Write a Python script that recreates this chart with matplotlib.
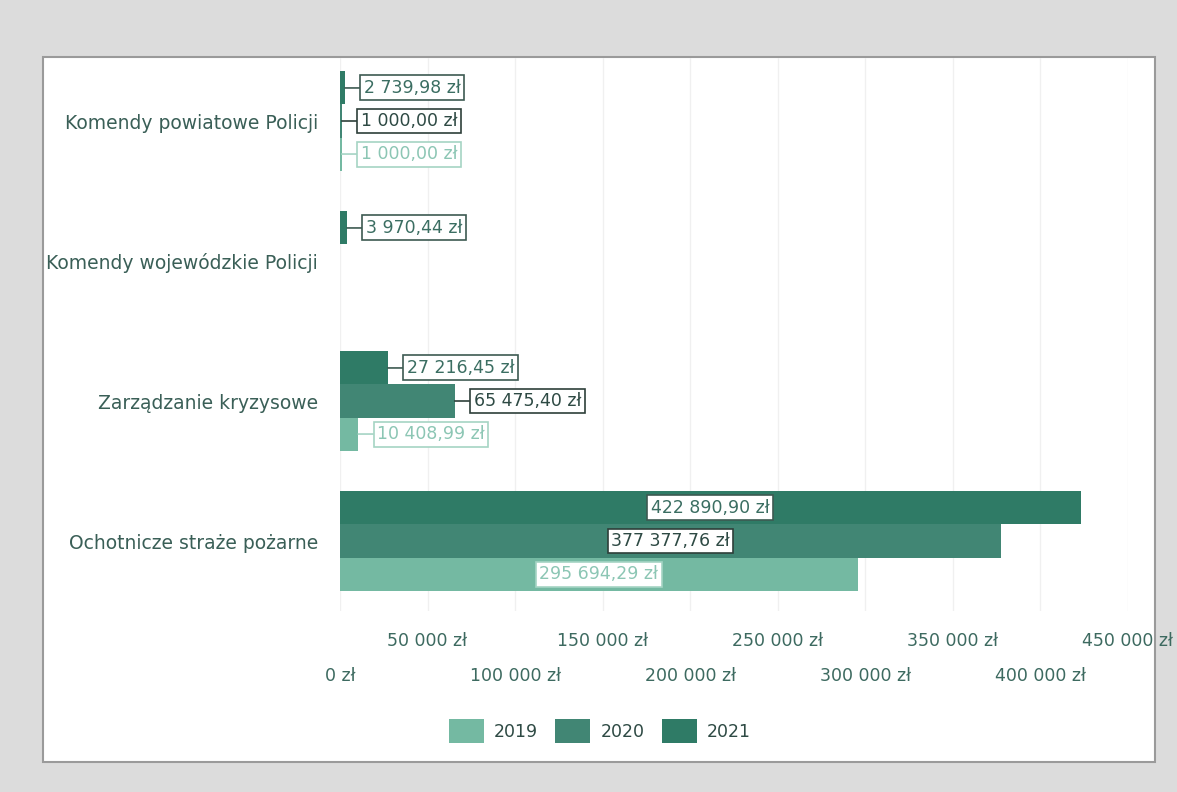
import matplotlib
matplotlib.use("Agg")
import matplotlib.pyplot as plt
from matplotlib.patches import Rectangle
import numpy as np

categories = ["Komendy powiatowe Policji", "Komendy wojewódzkie Policji",
              "Zarządzanie kryzysowe", "Ochotnicze straże pożarne"]
years = ["2019", "2020", "2021"]
values_2019 = [1000.00, None, 10408.99, 295694.29]
values_2020 = [1000.00, None, 65475.40, 377377.76]
values_2021 = [2739.98, 3970.44, 27216.45, 422890.90]
series = [values_2019, values_2020, values_2021]

bar_colors = ["#74b9a2", "#418674", "#2f7b66"]
label_text_colors = ["#8cc6b4", "#2e4a44", "#3b6e62"]
label_edge_colors = ["#a5d4c4", "#2e3f3a", "#3d5a52"]
offsets = [0.236, 0.0, -0.236]
bar_h = 0.236

def fmt(v):
    s = f"{v:,.2f}"
    s = s.replace(",", " ").replace(".", ",")
    return s + " zł"

fig = plt.figure(figsize=(11.77, 7.92), dpi=100)
fig.patch.set_facecolor("#dcdcdc")
W, H = 1177, 792
panel = Rectangle((43 / W, 1 - 762 / H), (1155 - 43) / W, (762 - 57) / H,
                  transform=fig.transFigure, facecolor="white",
                  edgecolor="#9a9a9a", linewidth=1.5, zorder=-10)
fig.add_artist(panel)

ax = fig.add_axes([340 / W, 1 - 611 / H, (1128 - 340) / W, (611 - 58) / H])
ax.set_zorder(1)
ax.set_facecolor("none")
y = np.arange(len(categories))

for i, vals in enumerate(series):
    for j, v in enumerate(vals):
        if v is None:
            continue
        yy = y[j] + offsets[i]
        ax.barh(yy, v, height=bar_h, color=bar_colors[i], zorder=2)
        box = dict(boxstyle="square,pad=0.2", facecolor="white",
                   edgecolor=label_edge_colors[i], linewidth=1.2)
        if v > 100000:
            ax.text(v / 2, yy, fmt(v), ha="center", va="center", fontsize=12.5,
                    color=label_text_colors[i], bbox=box, zorder=4)
        else:
            ax.annotate(fmt(v), xy=(v, yy), xytext=(19, 0), textcoords="offset pixels",
                        ha="left", va="center", fontsize=12.5,
                        color=label_text_colors[i], bbox=box, zorder=4,
                        arrowprops=dict(arrowstyle="-", color=label_edge_colors[i],
                                        lw=1.2, shrinkA=0, shrinkB=0))

ax.set_xlim(0, 450000)
ax.set_ylim(3.5, -0.45)
ax.set_yticks(y)
ax.set_yticklabels(categories, fontsize=13.5, color="#3a5f57")
ax.tick_params(axis="y", length=0, pad=16)

major = np.arange(0, 450001, 100000)
minor = np.arange(50000, 450001, 100000)
ax.set_xticks(major)
ax.set_xticklabels([f"{int(v):,} zł".replace(",", " ") for v in major])
ax.set_xticks(minor, minor=True)
ax.set_xticklabels([f"{int(v):,} zł".replace(",", " ") for v in minor], minor=True)
ax.tick_params(axis="x", which="major", length=0, pad=40, labelsize=12.5, labelcolor="#3d6a60")
ax.tick_params(axis="x", which="minor", length=0, pad=15, labelsize=12.5, labelcolor="#3d6a60")
ax.grid(axis="x", which="both", color="#f0f0f0", linewidth=1, zorder=0)
ax.set_axisbelow(True)
for s in ax.spines.values():
    s.set_visible(False)

handles = [Rectangle((0, 0), 1, 1, facecolor=c) for c in bar_colors]
fig.legend(handles, years, loc="center", bbox_to_anchor=(600 / W, 1 - 731 / H),
           ncol=3, frameon=False, fontsize=12.5, handlelength=2.0, handleheight=1.7,
           handletextpad=0.6, columnspacing=1.0, labelcolor="#2e4a44")

fig.savefig("out.png", dpi=100, facecolor=fig.get_facecolor())
